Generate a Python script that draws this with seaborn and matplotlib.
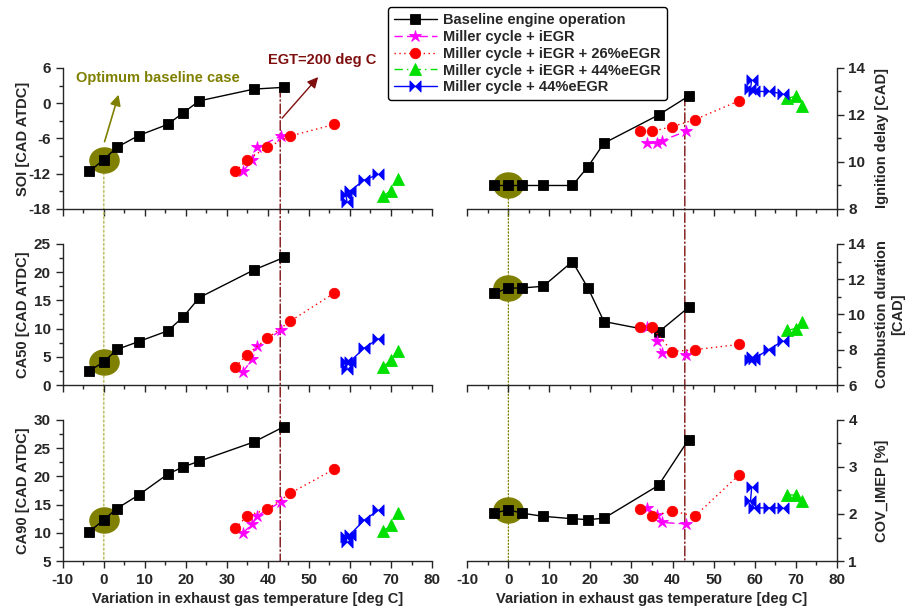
import matplotlib
matplotlib.use('Agg')
import matplotlib.pyplot as plt
import seaborn as sns
from matplotlib.path import Path
from matplotlib.transforms import Affine2D
from matplotlib.patches import ConnectionPatch
from matplotlib.ticker import MultipleLocator

# ---------------- data ----------------
series_names = ['Baseline engine operation', 'Miller cycle + iEGR',
                'Miller cycle + iEGR + 26%eEGR', 'Miller cycle + iEGR + 44%eEGR',
                'Miller cycle + 44%eEGR']

# variation in exhaust gas temperature [deg C]
egt_base = [-3.5, 0.0, 3.2, 8.5, 15.6, 19.4, 23.3, 36.6, 43.9]
egt_iegr = [33.9, 36.2, 37.4, 43.2]
egt_26 = [32.1, 34.9, 39.9, 45.4, 56.2]
egt_44 = [68.0, 70.0, 71.6]
egt_mc44 = [59.3, 59.0, 59.9, 63.4, 66.9]

# SOI [CAD ATDC]
soi_base = [-11.6, -9.6, -7.5, -5.5, -3.6, -1.6, 0.4, 2.4, 2.7]
soi_iegr = [-11.6, -9.7, -7.5, -5.6]
soi_26 = [-11.6, -9.6, -7.5, -5.6, -3.6]
soi_44 = [-15.8, -14.9, -12.9]
soi_mc44 = [-16.8, -15.6, -15.0, -13.1, -12.1]

# ignition delay [CAD]
igd_base = [9.0, 9.0, 9.0, 9.0, 9.0, 9.8, 10.8, 12.0, 12.8]
igd_iegr = [10.8, 10.8, 10.9, 11.3]
igd_26 = [11.3, 11.3, 11.5, 11.8, 12.6]
igd_44 = [12.7, 12.8, 12.4]
igd_mc44 = [13.5, 13.1, 13.0, 13.0, 12.9]

# CA50 [CAD ATDC]
ca50_base = [2.5, 4.1, 6.3, 7.7, 9.6, 12.1, 15.5, 20.4, 22.6]
ca50_iegr = [2.3, 4.6, 6.9, 9.7]
ca50_26 = [3.2, 5.4, 8.3, 11.3, 16.3]
ca50_44 = [3.2, 4.4, 6.1]
ca50_mc44 = [2.8, 4.0, 4.1, 6.5, 8.2]

# combustion duration [CAD]
cd_base = [11.2, 11.5, 11.5, 11.6, 13.0, 11.5, 9.6, 9.0, 10.4]
cd_iegr = [9.3, 8.5, 7.8, 7.7]
cd_26 = [9.3, 9.3, 7.9, 8.0, 8.3]
cd_44 = [9.1, 9.2, 9.6]
cd_mc44 = [7.6, 7.4, 7.5, 8.0, 8.5]

# CA90 [CAD ATDC]
ca90_base = [10.2, 12.3, 14.3, 16.7, 20.4, 21.7, 22.7, 26.1, 28.8]
ca90_iegr = [10.0, 11.5, 13.0, 15.5]
ca90_26 = [10.8, 13.0, 14.2, 17.0, 21.3]
ca90_44 = [10.3, 11.3, 13.5]
ca90_mc44 = [8.3, 9.3, 9.6, 12.2, 14.0]

# COV_IMEP [%]
cov_base = [2.02, 2.09, 2.02, 1.95, 1.90, 1.88, 1.91, 2.61, 3.58]
cov_iegr = [2.13, 1.97, 1.82, 1.79]
cov_26 = [2.10, 1.95, 2.07, 1.95, 2.83]
cov_44 = [2.41, 2.40, 2.27]
cov_mc44 = [2.57, 2.27, 2.13, 2.13, 2.13]

egt_limit = 43.0  # EGT = 200 deg C
optimum_idx = 1   # optimum baseline case

# ---------------- styling ----------------
sns.set_style('ticks')
plt.rcParams['font.family'] = ['Liberation Sans', 'DejaVu Sans']
plt.rcParams['font.weight'] = 'bold'
plt.rcParams['axes.labelweight'] = 'bold'
plt.rcParams['axes.linewidth'] = 1.0
plt.rcParams['axes.unicode_minus'] = False

olive = '#808000'
dark_red = '#7f0f0f'

bowtie = [(-1, -1), (-1, 1), (0, 0), (1, 1), (1, -1), (0, 0)]
ellipse = Path.unit_circle().transformed(Affine2D().scale(1.0, 0.86))

styles = [
    dict(color='black', linestyle='-', marker='s', markersize=7),
    dict(color='#ff00ff', linestyle=(0, (6, 3)), marker='*', markersize=9),
    dict(color='#ff0000', linestyle=(0, (1, 2.5)), marker='o', markersize=7.5),
    dict(color='#00e000', linestyle=(0, (6, 3, 1, 3)), marker='^', markersize=8),
    dict(color='#0000ff', linestyle='-', marker=bowtie, markersize=8),
]

x_sets = [egt_base, egt_iegr, egt_26, egt_44, egt_mc44]

panels = [
    # (row, col, y series, ylim, major, minor, label)
    (0, 0, [soi_base, soi_iegr, soi_26, soi_44, soi_mc44], (-18, 6), 6, 3, 'SOI [CAD ATDC]'),
    (0, 1, [igd_base, igd_iegr, igd_26, igd_44, igd_mc44], (8, 14), 2, 1, 'Ignition delay [CAD]'),
    (1, 0, [ca50_base, ca50_iegr, ca50_26, ca50_44, ca50_mc44], (0, 25), 5, 2.5, 'CA50 [CAD ATDC]'),
    (1, 1, [cd_base, cd_iegr, cd_26, cd_44, cd_mc44], (6, 14), 2, 1, 'Combustion duration\n[CAD]'),
    (2, 0, [ca90_base, ca90_iegr, ca90_26, ca90_44, ca90_mc44], (5, 30), 5, 2.5, 'CA90 [CAD ATDC]'),
    (2, 1, [cov_base, cov_iegr, cov_26, cov_44, cov_mc44], (1, 4), 1, 0.5, 'COV_IMEP [%]'),
]

fig = plt.figure(figsize=(9.08, 6.12), dpi=100)
col_left = [0.0691, 0.5147]
row_bottom = [0.6585, 0.3709, 0.0833]
ax_w, ax_h = 0.4067, 0.2305

axes = {}
for row, col, ys, ylim, major, minor, label in panels:
    ax = fig.add_axes([col_left[col], row_bottom[row], ax_w, ax_h])
    ax.set_facecolor('none')
    axes[(row, col)] = ax

    # olive ellipse marks the optimum baseline case
    ax.plot(egt_base[optimum_idx], ys[0][optimum_idx], marker=ellipse, ms=21,
            color=olive, ls='none', zorder=1.8, label='_nolegend_')

    for x, y, name, st in zip(x_sets, ys, series_names, styles):
        sns.lineplot(x=x, y=y, ax=ax, sort=False, estimator=None, legend=False,
                     label=name, lw=1.0, mec=st['color'], mew=0.6,
                     color=st['color'], linestyle=st['linestyle'],
                     marker=st['marker'], markersize=st['markersize'], zorder=2)

    ax.set_xlim(-10, 80)
    ax.set_ylim(*ylim)
    ax.xaxis.set_major_locator(MultipleLocator(10))
    ax.xaxis.set_minor_locator(MultipleLocator(5))
    ax.yaxis.set_major_locator(MultipleLocator(major))
    ax.yaxis.set_minor_locator(MultipleLocator(minor))
    ax.tick_params(which='major', length=5, width=1, labelsize=11, direction='out')
    ax.tick_params(which='minor', length=3, width=1, direction='out')

    if col == 0:
        sns.despine(ax=ax, top=True, right=True)
        ax.set_ylabel(label, fontsize=10.5)
        ax.yaxis.set_label_coords(-0.089, 0.5)
    else:
        sns.despine(ax=ax, top=True, left=True, right=False)
        ax.yaxis.tick_right()
        ax.yaxis.set_label_position('right')
        ax.set_ylabel(label, fontsize=10.5)
        ax.yaxis.set_label_coords(1.105, 0.5)

    if row == 2:
        ax.set_xlabel('Variation in exhaust gas temperature [deg C]', fontsize=10.5, labelpad=4)
    else:
        ax.set_xticklabels([])
        ax.set_xlabel('')

# vertical guide lines running through the columns
for col, ys_top, ybot, olive_col in [(0, soi_base, 5, '#c2c26a'), (1, igd_base, 1, olive)]:
    top_ax, bot_ax = axes[(0, col)], axes[(2, col)]
    con = ConnectionPatch(xyA=(egt_base[optimum_idx], ys_top[optimum_idx]), coordsA=top_ax.transData,
                          xyB=(egt_base[optimum_idx], ybot), coordsB=bot_ax.transData,
                          color=olive_col, lw=1.2 if col == 0 else 0.9, linestyle=':',
                          clip_on=False, zorder=1)
    top_ax.add_artist(con)
    con = ConnectionPatch(xyA=(egt_limit, ys_top[-1]), coordsA=top_ax.transData,
                          xyB=(egt_limit, ybot), coordsB=bot_ax.transData,
                          color=dark_red, lw=1.0, linestyle=(0, (7, 2, 1, 2)),
                          clip_on=False, zorder=1)
    top_ax.add_artist(con)

# annotations on the SOI panel
ax = axes[(0, 0)]
ax.annotate('', xy=(3.8, 1.9), xytext=(0.0, -7.0),
            arrowprops=dict(arrowstyle='-|>', color=olive, lw=1.2, mutation_scale=16))
ax.text(-6.8, 4.3, 'Optimum baseline case', color=olive, fontsize=10.5,
        fontweight='bold', va='center', ha='left')
ax.annotate('', xy=(52.7, 4.8), xytext=(egt_limit, -2.9), annotation_clip=False,
            arrowprops=dict(arrowstyle='-|>', color=dark_red, lw=1.0, mutation_scale=16))
ax.text(40.1, 7.4, 'EGT=200 deg C', color=dark_red, fontsize=10.5,
        fontweight='bold', va='center', ha='left', clip_on=False)

# shared legend
handles, labels = axes[(0, 0)].get_legend_handles_labels()
leg = fig.legend(handles, labels, loc='upper left', bbox_to_anchor=(0.427, 0.9886),
                 borderaxespad=0, prop={'weight': 'bold', 'size': 10.5}, handlelength=3.0,
                 labelspacing=0.2, borderpad=0.4, handletextpad=0.4,
                 frameon=True, fancybox=True, framealpha=1, edgecolor='black')
leg.get_frame().set_linewidth(1.0)

fig.savefig('out.png', dpi=100, facecolor='white')
